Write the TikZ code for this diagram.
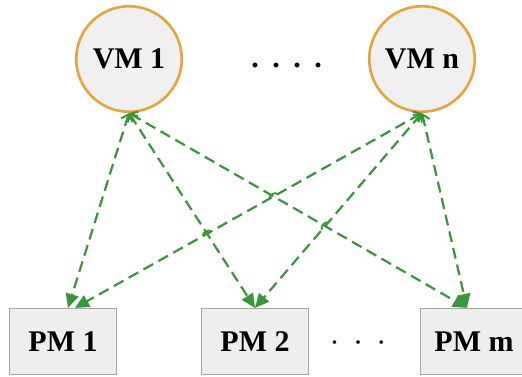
\documentclass[tikz,border=0pt]{standalone}
\usepackage{fontspec}
\setmainfont{Liberation Serif}
\usetikzlibrary{arrows.meta,calc,intersections}
\definecolor{vmfill}{RGB}{240,240,240}
\definecolor{vmedge}{RGB}{231,163,60}
\definecolor{pmfill}{RGB}{238,238,238}
\definecolor{pmedge}{RGB}{168,168,168}
\definecolor{lnk}{RGB}{58,150,58}
\begin{document}
\begin{tikzpicture}[x=1pt,y=-1pt,
  vm/.style={circle,draw=vmedge,fill=vmfill,line width=2.6pt,minimum size=105.5pt,inner sep=0pt,font=\fontsize{30}{36}\selectfont\bfseries},
  pm/.style={rectangle,draw=pmedge,fill=pmfill,line width=1.2pt,minimum width=107pt,minimum height=66pt,inner sep=0pt,font=\fontsize{30}{36}\selectfont\bfseries},
  link/.style={draw=lnk,line width=2.2pt,dash pattern=on 11pt off 6pt,{Straight Barb[length=6pt,width=12pt,line width=2pt]}-{Triangle[length=14pt,width=13pt]}},
  hop/.style={draw=lnk,line width=1.8pt},
  topdots/.style={font=\fontsize{30}{36}\selectfont\bfseries,inner sep=0pt,anchor=base},
  lowdots/.style={font=\fontsize{30}{36}\selectfont,inner sep=0pt,anchor=base}]
\clip (0,0) rectangle (522,376);
\fill[white] (0,0) rectangle (522,376);
\node[vm] (VM1) at (129,59) {VM 1};
\node[vm] (VMn) at (422,59) {VM n};
\node[topdots] (dtop) at (286.5,67) {.\hspace{13.5pt}.\hspace{13.5pt}.\hspace{13.5pt}.};
\node[pm] (PM1) at (63,341.5) {PM 1};
\node[pm] (PM2) at (255,341.5) {PM 2};
\node[pm] (PMm) at (474,341.5) {PM m};
\node[lowdots] (dlow) at (358,352) {·\hspace{13.5pt}·\hspace{13.5pt}·};
\coordinate (a1) at ([xshift=5pt]PM1.north);
\coordinate (b1) at ([xshift=12pt]PM1.north);
\coordinate (a2) at (PM2.north);
\coordinate (am) at ([xshift=-7pt]PMm.north);
\draw[link,name path=lA] (VM1.south) -- (a1);
\draw[link,name path=lB] (VM1.south) -- (a2);
\draw[link,name path=lC] (VM1.south) -- (am);
\draw[link,name path=lD] (VMn.south) -- (b1);
\draw[link,name path=lE] (VMn.south) -- (a2);
\draw[link,name path=lF] (VMn.south) -- (am);
\path[name intersections={of=lB and lD,by=h1}];
\path[name intersections={of=lC and lD,by=h2}];
\path[name intersections={of=lC and lE,by=h3}];
\draw[hop] ($(h1)!4.5pt!(VMn.south)$) to[bend right=90] ($(h1)!4.5pt!(b1)$);
\draw[hop] ($(h2)!4.5pt!(VMn.south)$) to[bend right=90] ($(h2)!4.5pt!(b1)$);
\draw[hop] ($(h3)!4.5pt!(VMn.south)$) to[bend right=90] ($(h3)!4.5pt!(a2)$);
\end{tikzpicture}
\end{document}
